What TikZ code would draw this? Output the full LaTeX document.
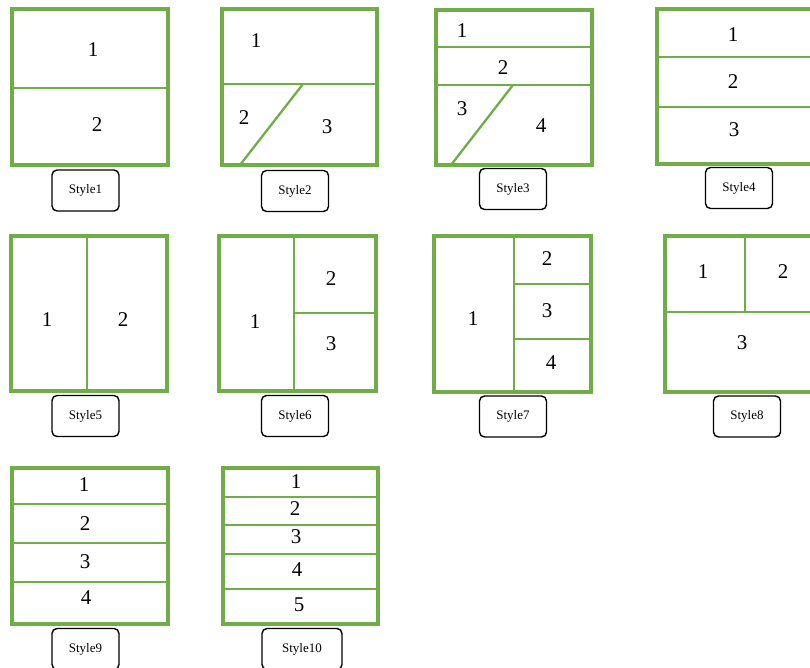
\documentclass[tikz,border=0pt]{standalone}
\usepackage{fontspec}
\setmainfont{Liberation Serif}
\definecolor{grn}{HTML}{70AD47}
\begin{document}
\begin{tikzpicture}[x=1pt,y=-1pt,
  outer/.style={draw=grn,line width=3.4pt},
  inner/.style={draw=grn,line width=2.3pt},
  num/.style={font=\fontsize{21}{21}\selectfont,inner sep=0pt},
  lbl/.style={draw=black,line width=1.4pt,rounded corners=5pt,
    font=\fontsize{13}{13}\selectfont,minimum width=67pt,minimum height=41pt,inner sep=0pt}]
\useasboundingbox (0,0) rectangle (810,668);
\clip (0,0) rectangle (810,668);
% ---------- Style1
\draw[outer] (12,9) rectangle (168,165);
\draw[inner] (12,88) -- (168,88);
\node[num] (a1) at (93,50) {1};
\node[num] (a2) at (97,125) {2};
\node[lbl] (s1) at (85.5,190.5) {Style1};
% ---------- Style2
\draw[outer] (222,9) rectangle (377,165);
\draw[inner] (222,84) -- (377,84);
\draw[inner] (303,84) -- (240,165);
\node[num] (b1) at (256,41) {1};
\node[num] (b2) at (244,118) {2};
\node[num] (b3) at (327,127) {3};
\node[lbl] (s2) at (295,191) {Style2};
% ---------- Style3
\draw[outer] (436,10) rectangle (592,165);
\draw[inner] (436,47) -- (592,47);
\draw[inner] (436,85) -- (592,85);
\draw[inner] (513,85) -- (451,165);
\node[num] (c1) at (462,31) {1};
\node[num] (c2) at (503,68) {2};
\node[num] (c3) at (462,109) {3};
\node[num] (c4) at (541,126) {4};
\node[lbl] (s3) at (513,189) {Style3};
% ---------- Style4
\draw[outer] (657,9) rectangle (813,164);
\draw[inner] (657,57) -- (813,57);
\draw[inner] (657,107) -- (813,107);
\node[num] (d1) at (733,35) {1};
\node[num] (d2) at (733,82) {2};
\node[num] (d3) at (734,130) {3};
\node[lbl] (s4) at (739,188) {Style4};
% ---------- Style5
\draw[outer] (11,236) rectangle (167,391);
\draw[inner] (87,236) -- (87,391);
\node[num] (e1) at (47,320) {1};
\node[num] (e2) at (123,320) {2};
\node[lbl] (s5) at (85.5,416) {Style5};
% ---------- Style6
\draw[outer] (219,236) rectangle (376,391);
\draw[inner] (294,236) -- (294,391);
\draw[inner] (294,313) -- (376,313);
\node[num] (f1) at (255,322) {1};
\node[num] (f2) at (331,279) {2};
\node[num] (f3) at (331,344) {3};
\node[lbl] (s6) at (295,416) {Style6};
% ---------- Style7
\draw[outer] (434,236) rectangle (591,392);
\draw[inner] (514,236) -- (514,392);
\draw[inner] (514,284) -- (591,284);
\draw[inner] (514,339) -- (591,339);
\node[num] (g1) at (473,319) {1};
\node[num] (g2) at (547,259) {2};
\node[num] (g3) at (547,311) {3};
\node[num] (g4) at (551,363) {4};
\node[lbl] (s7) at (513,416.5) {Style7};
% ---------- Style8
\draw[outer] (665,236) rectangle (821,392);
\draw[inner] (745,236) -- (745,312);
\draw[inner] (665,312) -- (821,312);
\node[num] (h1) at (703,272) {1};
\node[num] (h2) at (783,272) {2};
\node[num] (h3) at (742,343) {3};
\node[lbl] (s8) at (747,416.5) {Style8};
% ---------- Style9
\draw[outer] (12,468) rectangle (168,624);
\draw[inner] (12,504) -- (168,504);
\draw[inner] (12,543) -- (168,543);
\draw[inner] (12,582) -- (168,582);
\node[num] (i1) at (84,485) {1};
\node[num] (i2) at (85,524) {2};
\node[num] (i3) at (85,562) {3};
\node[num] (i4) at (86,598) {4};
\node[lbl] (s9) at (85.5,649) {Style9};
% ---------- Style10
\draw[outer] (223,468) rectangle (378,624);
\draw[inner] (223,497) -- (378,497);
\draw[inner] (223,525) -- (378,525);
\draw[inner] (223,554) -- (378,554);
\draw[inner] (223,589) -- (378,589);
\node[num] (j1) at (296,482) {1};
\node[num] (j2) at (295,509) {2};
\node[num] (j3) at (296,537) {3};
\node[num] (j4) at (297,570) {4};
\node[num] (j5) at (299,605) {5};
\node[lbl,minimum width=80pt] (s10) at (302,649) {Style10};
\end{tikzpicture}
\end{document}
